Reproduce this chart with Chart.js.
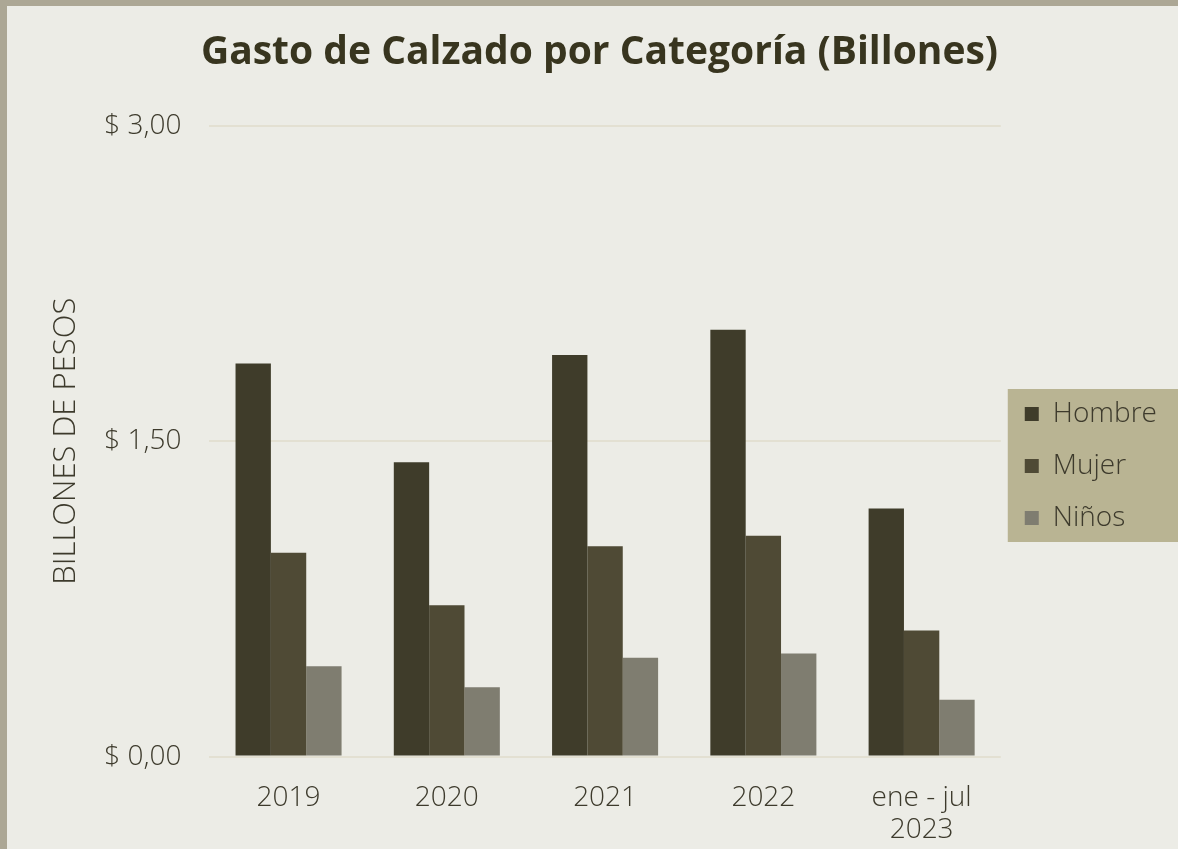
<!DOCTYPE html>
<html>
<head>
<meta charset="utf-8">
<script src="https://cdn.jsdelivr.net/npm/chart.js@4/dist/chart.umd.min.js"></script>
<style>
  html, body { margin: 0; padding: 0; background: #aca795; }
  #wrap { position: absolute; left: 0; top: 0; width: 1178px; height: 849px; }
</style>
</head>
<body>
<div id="wrap"><canvas id="chart" width="1178" height="849"></canvas></div>
<script>
  // data
  var categories = ['2019', '2020', '2021', '2022', ['ene - jul', '2023']];
  var hombre = [1.87, 1.40, 1.91, 2.03, 1.18];
  var mujer = [0.97, 0.72, 1.00, 1.05, 0.60];
  var ninos = [0.43, 0.33, 0.47, 0.49, 0.27];
  var yTicks = [0, 1.5, 3];

  var textColor = '#3d3a2c';
  var fontFamily = '"Open Sans", "DejaVu Sans", sans-serif';

  // frame + panel background, and tan box behind the legend
  var backdrop = {
    id: 'backdrop',
    afterLayout: function (chart) {
      // legend sits a bit below the middle of the plot in the original
      var lg = chart.legend;
      if (lg) { lg.top += 16; lg.bottom += 16; }
      // title is centred on the page, not on the padded area
      var tb = chart.titleBlock;
      if (tb) { tb.left -= 8; tb.right -= 8; }
    },
    beforeDraw: function (chart) {
      var ctx = chart.ctx;
      ctx.save();
      ctx.fillStyle = '#aca795';
      ctx.fillRect(0, 0, chart.width, chart.height);
      ctx.fillStyle = '#ecece6';
      ctx.fillRect(7, 6, chart.width - 7, chart.height - 6);
      var lg = chart.legend;
      if (lg && lg.legendHitBoxes && lg.legendHitBoxes.length) {
        var boxes = lg.legendHitBoxes;
        var first = boxes[0], last = boxes[boxes.length - 1];
        var top = first.top + first.height / 2 - 25;
        var bottom = last.top + last.height / 2 + 24;
        ctx.fillStyle = '#b9b493';
        ctx.fillRect(lg.left + 7, top, chart.width - lg.left - 7, bottom - top);
      }
      ctx.restore();
    }
  };

  var ctx = document.getElementById('chart').getContext('2d');
  window.gastoChart = new Chart(ctx, {
    type: 'bar',
    data: {
      labels: categories,
      datasets: [
        { label: 'Hombre', data: hombre, backgroundColor: '#3f3c2a' },
        { label: 'Mujer', data: mujer, backgroundColor: '#4f4a35' },
        { label: 'Niños', data: ninos, backgroundColor: '#7f7d70' }
      ]
    },
    options: {
      responsive: false,
      animation: false,
      layout: { padding: { left: 48, right: 11, top: 29, bottom: -22 } },
      datasets: {
        bar: { barPercentage: 1, categoryPercentage: 0.67, borderWidth: 0 }
      },
      plugins: {
        title: {
          display: true,
          text: 'Gasto de Calzado por Categoría (Billones)',
          color: '#38351f',
          font: { family: fontFamily, size: 39, weight: 'bold', lineHeight: 1.2 },
          padding: { top: 0, bottom: 50 }
        },
        legend: {
          position: 'right',
          labels: {
            color: textColor,
            font: { family: fontFamily, size: 28, weight: 300 },
            boxWidth: 14,
            boxHeight: 14,
            padding: 24
          }
        },
        tooltip: { enabled: false }
      },
      scales: {
        x: {
          grid: { display: false, drawTicks: false },
          border: { display: false },
          ticks: {
            color: textColor,
            font: { family: fontFamily, size: 28, weight: 300, lineHeight: 1.15 },
            padding: 25,
            maxRotation: 0
          }
        },
        y: {
          min: 0,
          max: 3,
          afterBuildTicks: function (scale) {
            scale.ticks = yTicks.map(function (v) { return { value: v }; });
          },
          grid: { color: '#e3e0d2', lineWidth: 2, drawTicks: false },
          border: { display: false },
          ticks: {
            color: textColor,
            font: { family: fontFamily, size: 28, weight: 300 },
            padding: 28,
            callback: function (v) { return '$ ' + Number(v).toFixed(2).replace('.', ','); }
          },
          title: {
            display: true,
            text: 'BILLONES DE PESOS',
            color: textColor,
            font: { family: fontFamily, size: 31, weight: 300, lineHeight: 1.2 },
            padding: { top: 0, bottom: -9 }
          }
        }
      }
    },
    plugins: [backdrop]
  });
</script>
</body>
</html>
